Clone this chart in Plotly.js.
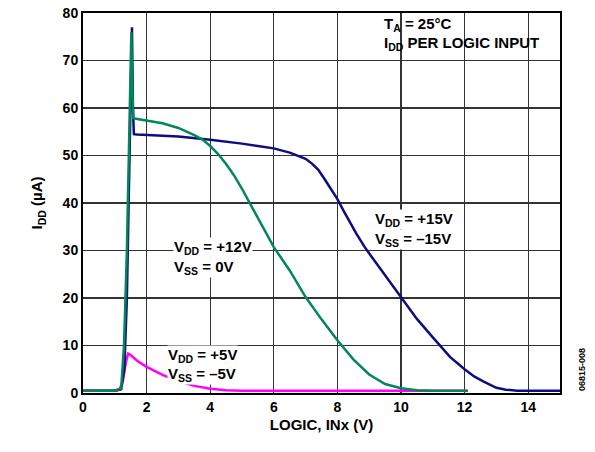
<!DOCTYPE html>
<html><head><meta charset="utf-8">
<script src="https://cdn.plot.ly/plotly-3.0.1.min.js"></script>
<style>body{margin:0;background:#fff}#c{width:595px;height:452px}</style>
</head><body><div id="c"></div>
<script>
const blueX = [0,1.0,1.2,1.3,1.38,1.45,1.5,1.54,1.57,1.6,1.7,2,3,4,4.6,5,5.5,6,6.5,6.8,7,7.2,7.4,7.6,7.8,8,8.2,8.4,8.6,8.9,9.2,9.5,10,10.5,11,11.23,11.54,12,12.3,12.6,13,13.3,13.65,14,15];
const blueY = [0.5,0.5,0.8,5,20,45,65,77,60,54.5,54.4,54.3,54,53.3,52.9,52.5,52,51.5,50.6,49.9,49.3,48.3,47,45,43,40.8,38.3,35.8,33.5,30.3,27.5,24.9,20.0,15.6,11.7,10,7.6,5,3.5,2.4,1.1,0.7,0.5,0.5,0.5];
const greenX = [0,1.0,1.2,1.29,1.38,1.45,1.5,1.52,1.55,1.58,1.62,2,2.5,3,3.5,3.77,4,4.25,4.5,4.75,5,5.3,5.6,6,6.5,7,7.5,8,8.5,9,9.5,10,10.5,11,12.1];
const greenY = [0.5,0.5,1,10,30,55,70,76,65,58,57.8,57.4,56.8,55.8,54.3,53.3,52,50.3,48.2,45.8,43,39.3,35.6,30.7,25.8,20.2,15.5,11.1,7.1,3.9,1.9,1.0,0.6,0.5,0.5];
const magX = [0,1.0,1.15,1.25,1.35,1.42,1.5,1.7,2,2.5,3,3.5,4,4.5,5,12.1];
const magY = [0.5,0.5,0.7,2.5,6.5,8.3,8,6.8,5.5,3.8,2.5,1.5,0.9,0.6,0.5,0.5];
const xTicks = [0,2,4,6,8,10,12,14];
const yTicks = [0,10,20,30,40,50,60,70,80];

const F = {family:'Liberation Sans, Arial, sans-serif', weight:'bold', color:'#000'};
const f = s => Object.assign({}, F, {size:s});
const traces = [
  {x:magX, y:magY, mode:'lines', line:{color:'#ff00ff', width:2.5}},
  {x:blueX, y:blueY, mode:'lines', line:{color:'#0d0d80', width:2.5}},
  {x:greenX, y:greenY, mode:'lines', line:{color:'#00875a', width:2.5}}
];
const ann = (x,y,t,bg)=>({x:x,y:y,xref:'x',yref:'y',text:t,showarrow:false,xanchor:'left',yanchor:'middle',align:'left',bgcolor:bg===false?'rgba(0,0,0,0)':'#fff',borderpad:0,font:f(15)});
const layout = {
  width:595, height:452,
  margin:{l:83,r:35,t:13,b:59},
  paper_bgcolor:'#fff', plot_bgcolor:'#fff',
  showlegend:false,
  font:f(14),
  xaxis:{range:[0,15], tickvals:xTicks, ticks:'', showgrid:true, gridcolor:'#333', gridwidth:1.3,
    showline:true, linecolor:'#000', linewidth:2, mirror:true, zeroline:false,
    tickfont:f(14),
    title:{text:'LOGIC, INx (V)', font:f(15), standoff:6}},
  yaxis:{range:[0,80], tickvals:yTicks, ticks:'', showgrid:true, gridcolor:'#333', gridwidth:1.3,
    showline:true, linecolor:'#000', linewidth:2, mirror:true, zeroline:false,
    tickfont:f(14),
    title:{text:'I<sub>DD</sub> (µA)', font:f(15), standoff:16}},
  annotations:[
    ann(9.42, 77.6, 'T<sub>A</sub> = 25°C', false),
    ann(9.42, 73.6, 'I<sub>DD</sub> PER LOGIC INPUT', false),
    ann(9.15, 36.6, 'V<sub>DD</sub> = +15V'),
    ann(9.15, 32.4, 'V<sub>SS</sub> = –15V'),
    ann(2.83, 30.6, 'V<sub>DD</sub> = +12V'),
    ann(2.83, 26.4, 'V<sub>SS</sub> = 0V'),
    ann(2.65, 8.0, 'V<sub>DD</sub> = +5V'),
    ann(2.65, 4.0, 'V<sub>SS</sub> = –5V'),
    {x:1.045, y:0.0, xref:'paper', yref:'paper', text:'06815-008', showarrow:false, textangle:-90, xanchor:'center', yanchor:'bottom', font:{family:'Liberation Sans, Arial, sans-serif', size:9, color:'#000'}}
  ]
};
Plotly.newPlot('c', traces, layout, {displayModeBar:false, staticPlot:true});
</script></body></html>
